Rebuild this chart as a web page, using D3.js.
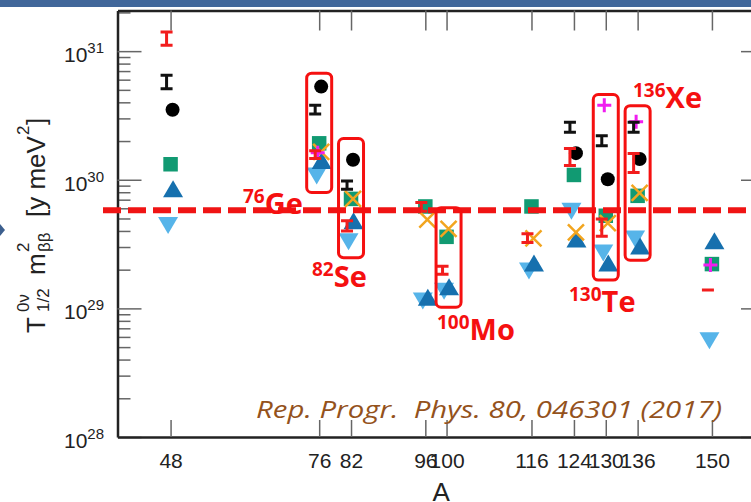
<!DOCTYPE html>
<html>
<head>
<meta charset="utf-8">
<script src="https://cdn.jsdelivr.net/npm/d3@7"></script>
<style>
  body { margin: 0; background: #fff; }
  svg { display: block; }
</style>
</head>
<body>
<div id="chart"></div>
<script>
/* Data (T1/2 * m_bb^2 in y meV^2) */
const isotopes = [48, 76, 82, 96, 100, 116, 124, 130, 136, 150];

const circleVals = [3.5e30, 5.3e30, 1.43e30, null, null, null, 1.61e30, 1.01e30, 1.45e30, null];
const squareVals = [1.32e30, 1.92e30, 7.1e29, 6.2e29, 3.6e29, 6.2e29, 1.09e30, 5.25e29, 7.5e29, 2.21e29];
const upTriVals = [8.5e29, 1.41e30, 4.8e29, 1.22e29, 1.47e29, 2.25e29, 3.47e29, 2.25e29, 3.06e29, 3.35e29];
const downTriVals = [4.4e29, 1.07e30, 3.3e29, 1.14e29, 1.36e29, 1.95e29, 5.7e29, 2.7e29, 3.47e29, 5.6e28];
const crossVals = [null, 1.65e30, 7.1e29, 4.9e29, 4.15e29, 3.5e29, 3.9e29, 4.6e29, 7.9e29, null];
const plusVals = [null, 1.62e30, null, null, null, null, null, 3.8e30, 2.83e30, 2.17e29];

// ranges drawn as I-beams
const blackLo = [5.1e30, 3.25e30, 8.45e29, null, null, null, 2.34e30, 1.84e30, 2.34e30, null];
const blackHi = [6.5e30, 3.8e30, 9.8e29, null, null, null, 2.8e30, 2.2e30, 2.8e30, null];
const redLo = [1.11e31, 1.46e30, 4.0e29, 5.7e29, 1.84e29, 3.25e29, 1.29e30, 3.63e29, 1.14e30, 1.39e29];
const redHi = [1.41e31, 1.68e30, 4.8e29, 6.65e29, 2.13e29, 3.8e29, 1.75e30, 4.95e29, 1.6e30, 1.39e29];

const refLine = 5.8e29;

// highlighted isotopes: A, upper and lower edge of the box
const boxA = [76, 82, 100, 130, 136];
const boxTop = [6.74e30, 2.09e30, 6.06e29, 4.6e30, 3.77e30];
const boxBottom = [7.96e29, 2.48e29, 1.02e29, 1.66e29, 2.37e29];

const yTicks = [1e28, 1e29, 1e30, 1e31];

/* Layout */
const W = 751, H = 502;
const plot = { left: 117.5, right: 765, top: 10.5, bottom: 437 };

const x = d3.scaleLinear().domain([38, 160]).range([plot.left, plot.right]);
const y = d3.scaleLog().domain([1e28, 2.07e31]).range([plot.bottom, plot.top]);

const minorTicks = [];
for (let e = 28; e <= 31; e++) {
  for (let m = 2; m <= 9; m++) {
    const v = m * Math.pow(10, e);
    if (v < y.domain()[1]) minorTicks.push(v);
  }
}

const svg = d3
  .select('#chart')
  .append('svg')
  .attr('width', W)
  .attr('height', H);

// slide decorations
svg.append('rect').attr('x', 0).attr('y', 0).attr('width', W).attr('height', 7).attr('fill', '#41679a');
svg.append('path').attr('d', 'M0,224L5,230L0,236Z').attr('fill', '#3c5f8e');

const styleAxis = (g, showDomain) => {
  g.attr('font-family', null).attr('font-size', null);
  g.selectAll('.tick line').attr('stroke', '#666').attr('stroke-width', 1.5);
  if (showDomain) g.select('.domain').attr('stroke', '#222').attr('stroke-width', 2.5);
  else g.select('.domain').remove();
};

// left axis
svg.append('g')
  .attr('transform', `translate(${plot.left},0)`)
  .call(d3.axisLeft(y).tickValues(minorTicks).tickSizeInner(-13).tickSizeOuter(0).tickFormat(''))
  .call((g) => styleAxis(g, false));
svg.append('g')
  .attr('transform', `translate(${plot.left},0)`)
  .call(d3.axisLeft(y).tickValues(yTicks).tickSizeInner(-24).tickSizeOuter(0).tickFormat(''))
  .call((g) => styleAxis(g, true));

// right axis (mostly outside the picture)
svg.append('g')
  .attr('transform', `translate(${plot.right},0)`)
  .call(d3.axisRight(y).tickValues(minorTicks).tickSizeInner(-13).tickSizeOuter(0).tickFormat(''))
  .call((g) => styleAxis(g, false));
svg.append('g')
  .attr('transform', `translate(${plot.right},0)`)
  .call(d3.axisRight(y).tickValues(yTicks).tickSizeInner(-24).tickSizeOuter(0).tickFormat(''))
  .call((g) => styleAxis(g, true));

// top axis
svg.append('g')
  .attr('transform', `translate(0,${plot.top})`)
  .call(d3.axisTop(x).tickValues(isotopes).tickSizeInner(-20).tickSizeOuter(0).tickFormat(''))
  .call((g) => styleAxis(g, true));

// bottom axis
const xAxis = svg.append('g')
  .attr('transform', `translate(0,${plot.bottom})`)
  .call(d3.axisBottom(x).tickValues(isotopes).tickSizeInner(-17).tickSizeOuter(0).tickPadding(16).tickFormat(d3.format('d')))
  .call((g) => styleAxis(g, true));
xAxis.selectAll('.tick text')
  .attr('fill', '#222')
  .style('font-family', "'Liberation Sans', Arial, sans-serif")
  .style('font-size', '21px');

// y tick labels 10^n
const yLab = svg.append('g')
  .selectAll('text')
  .data(yTicks)
  .join('text')
  .attr('x', 104)
  .attr('y', (d) => y(d) + 11)
  .attr('text-anchor', 'end')
  .attr('fill', '#222')
  .style('font-family', "'Liberation Sans', Arial, sans-serif")
  .style('font-size', '21px');
yLab.append('tspan').text('10');
yLab.append('tspan').attr('dy', -9).style('font-size', '15px').text((d) => Math.round(Math.log10(d)));

// axis titles
svg.append('text')
  .attr('x', (plot.left + plot.right) / 2)
  .attr('y', 501)
  .attr('text-anchor', 'middle')
  .attr('fill', '#222')
  .style('font-family', "'Liberation Sans', Arial, sans-serif")
  .style('font-size', '26px')
  .text('A');

const yTitle = svg.append('g')
  .attr('transform', 'translate(45,225) rotate(-90)')
  .attr('fill', '#222')
  .style('font-family', "'Liberation Sans', Arial, sans-serif");
const titleParts = [
  { t: 'T', x: -108, y: 0, s: 26 },
  { t: '0ν', x: -87, y: -16, s: 17 },
  { t: '1/2', x: -87, y: 4, s: 17 },
  { t: 'm', x: -50, y: 0, s: 26 },
  { t: '2', x: -27, y: -16, s: 17 },
  { t: 'ββ', x: -27, y: 5, s: 17 },
  { t: '[y meV', x: 8, y: 0, s: 26 },
  { t: '2', x: 90, y: -16, s: 17 },
  { t: ']', x: 100, y: 0, s: 26 },
];
yTitle.selectAll('text')
  .data(titleParts)
  .join('text')
  .attr('x', (d) => d.x)
  .attr('y', (d) => d.y)
  .style('font-size', (d) => d.s + 'px')
  .text((d) => d.t);

// citation
svg.append('text')
  .attr('x', 256)
  .attr('y', 418)
  .attr('fill', '#94521c')
  .attr('textLength', 466)
  .attr('lengthAdjust', 'spacingAndGlyphs')
  .style('white-space', 'pre')
  .style('font-family', "'Open Sans', sans-serif")
  .style('font-style', 'italic')
  .style('font-size', '24px')
  .text('Rep. Progr.  Phys. 80, 046301 (2017)');

/* Markers */
const points = (vals) =>
  isotopes.map((a, i) => ({ a, v: vals[i] })).filter((d) => d.v != null);

const shapes = {
  square: (g, c) => g.append('rect').attr('x', -7.25).attr('y', -7.25).attr('width', 14.5).attr('height', 14.5).attr('fill', c),
  down: (g, c) => g.append('path').attr('d', 'M-10,-8.5L10,-8.5L0,8.5Z').attr('fill', c),
  up: (g, c) => g.append('path').attr('d', 'M-10,8.5L10,8.5L0,-8.5Z').attr('fill', c),
  cross: (g, c) => g.append('path').attr('d', 'M-8,-8L8,8M-8,8L8,-8').attr('stroke', c).attr('stroke-width', 2.5).attr('fill', 'none'),
  plus: (g, c) => g.append('path').attr('d', 'M-7,0H7M0,-7V7').attr('stroke', c).attr('stroke-width', 3).attr('fill', 'none'),
  circle: (g, c) => g.append('circle').attr('r', 7).attr('fill', c),
};

const series = [
  { vals: squareVals, shape: 'square', color: '#119a72', dx: 0 },
  { vals: downTriVals, shape: 'down', color: '#56b4e9', dx: -2.5 },
  { vals: upTriVals, shape: 'up', color: '#1670ae', dx: 2.5 },
  { vals: crossVals, shape: 'cross', color: '#f2a51f', dx: 2 },
  { vals: plusVals, shape: 'plus', color: '#f01ef0', dx: -1.5 },
  { vals: circleVals, shape: 'circle', color: '#000', dx: 2 },
];

const marks = svg.append('g').attr('class', 'marks');
series.forEach((s) => {
  marks.append('g')
    .selectAll('g')
    .data(points(s.vals))
    .join('g')
    .attr('transform', (d) => `translate(${x(d.a) + s.dx},${y(d.v)})`)
    .each(function () {
      shapes[s.shape](d3.select(this), s.color);
    });
});

// I-beam ranges
const ranges = [
  { lo: blackLo, hi: blackHi, color: '#111' },
  { lo: redLo, hi: redHi, color: '#f21d1d' },
];
ranges.forEach((r) => {
  const data = isotopes
    .map((a, i) => ({ a, lo: r.lo[i], hi: r.hi[i] }))
    .filter((d) => d.lo != null);
  marks.append('g')
    .selectAll('path')
    .data(data)
    .join('path')
    .attr('fill', 'none')
    .attr('stroke', r.color)
    .attr('stroke-width', 3)
    .attr('d', (d) => {
      const cx = x(d.a) - 4, y0 = y(d.hi), y1 = y(d.lo);
      return `M${cx - 6},${y0}H${cx + 6}M${cx},${y0}V${y1}M${cx - 6},${y1}H${cx + 6}`;
    });
});

// reference line
svg.append('line')
  .attr('x1', 103)
  .attr('x2', W)
  .attr('y1', y(refLine))
  .attr('y2', y(refLine))
  .attr('stroke', '#f01414')
  .attr('stroke-width', 6)
  .attr('stroke-dasharray', '18 7');

// highlight boxes
svg.append('g')
  .selectAll('rect')
  .data(boxA.map((a, i) => ({ a, top: boxTop[i], bottom: boxBottom[i] })))
  .join('rect')
  .attr('x', (d) => x(d.a) - 12.5 + (d.a === 100 ? 2 : 0))
  .attr('y', (d) => y(d.top))
  .attr('width', 25)
  .attr('height', (d) => y(d.bottom) - y(d.top))
  .attr('rx', 5)
  .attr('fill', 'none')
  .attr('stroke', '#f51010')
  .attr('stroke-width', 3);

// isotope labels
const isoLabels = [
  { mass: '76', el: 'Ge', x: 243, y: 214 },
  { mass: '82', el: 'Se', x: 312, y: 287 },
  { mass: '100', el: 'Mo', x: 437, y: 340 },
  { mass: '130', el: 'Te', x: 569, y: 312 },
  { mass: '136', el: 'Xe', x: 633, y: 108 },
];
const lab = svg.append('g')
  .selectAll('text')
  .data(isoLabels)
  .join('text')
  .attr('x', (d) => d.x)
  .attr('y', (d) => d.y)
  .attr('fill', '#f51010')
  .style('font-family', "'Open Sans', sans-serif")
  .style('font-weight', 'bold');
lab.append('tspan').attr('dy', -11).style('font-size', '19px').text((d) => d.mass);
lab.append('tspan').attr('dy', 11).style('font-size', '29px').text((d) => d.el);
</script>
</body>
</html>
